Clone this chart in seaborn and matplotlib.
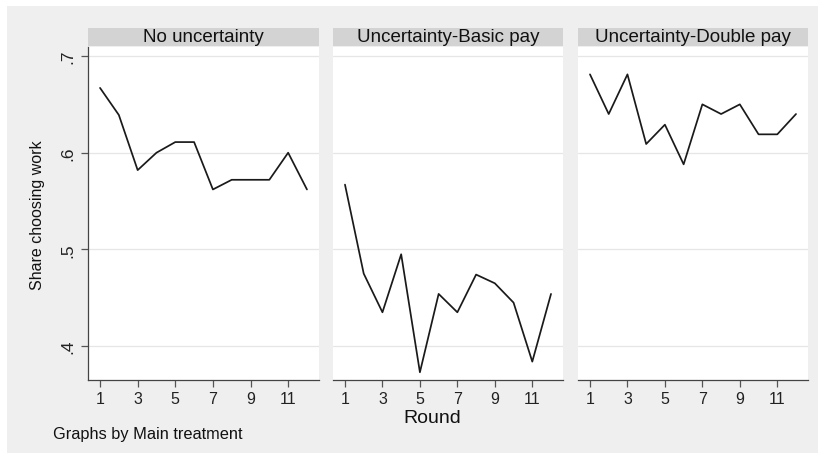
import numpy as np
import pandas as pd
import seaborn as sns
import matplotlib
matplotlib.use("Agg")
import matplotlib.pyplot as plt
from matplotlib.patches import Rectangle

# ---- data ----
rounds = list(range(1, 13))
treatments = ["No uncertainty", "Uncertainty-Basic pay", "Uncertainty-Double pay"]
share_no_uncertainty = [0.667, 0.639, 0.582, 0.600, 0.611, 0.611, 0.562, 0.572, 0.572, 0.572, 0.600, 0.562]
share_basic_pay = [0.567, 0.475, 0.435, 0.495, 0.373, 0.454, 0.435, 0.474, 0.465, 0.445, 0.384, 0.454]
share_double_pay = [0.681, 0.640, 0.681, 0.609, 0.629, 0.588, 0.650, 0.640, 0.650, 0.619, 0.619, 0.640]
x_ticks = [1, 3, 5, 7, 9, 11]
y_ticks = [0.4, 0.5, 0.6, 0.7]
y_tick_labels = [".4", ".5", ".6", ".7"]

df = pd.DataFrame({
    "Round": rounds * 3,
    "Share": share_no_uncertainty + share_basic_pay + share_double_pay,
    "Main treatment": [t for t in treatments for _ in rounds],
})

sns.set_theme(style="white")
plt.rcParams["font.family"] = ["Liberation Sans", "DejaVu Sans"]

W, H = 823, 456
g = sns.FacetGrid(df, col="Main treatment", col_order=treatments, sharey=True, sharex=True,
                  height=4.56, aspect=823 / 456 / 3)
g.map_dataframe(sns.lineplot, x="Round", y="Share", color="#1a1a1a", linewidth=1.25)
fig = g.figure
fig.set_size_inches(W / 100, H / 100)
fig.set_dpi(100)
fig.patch.set_facecolor("white")

# outer grey background
fig.patches.append(Rectangle((7 / W, 1 - 454 / H), 811 / W, 447 / H, transform=fig.transFigure,
                             facecolor="#efefef", edgecolor="none", zorder=-10))

lefts = [88, 333, 578]
widths = [231, 230, 230]
top_px, bot_px = 48, 381
for i, (ax, name) in enumerate(zip(g.axes.flat, treatments)):
    ax.set_position([lefts[i] / W, 1 - bot_px / H, widths[i] / W, (bot_px - top_px) / H])
    ax.set_facecolor("white")
    ax.set_xlim(0.36, 12.64)
    ax.set_ylim(0.365, 0.7093)
    ax.set_title("")
    ax.set_xlabel("")
    ax.set_ylabel("")
    for yv in y_ticks:
        ax.axhline(yv, color="#e6e6e6", linewidth=0.9, zorder=0)
    ax.set_xticks(x_ticks)
    ax.set_xticklabels([str(v) for v in x_ticks], fontsize=11.5, color="#222222")
    ax.tick_params(axis="x", bottom=True, length=5, width=0.9, color="#555555", pad=3)
    for s in ["top", "right"]:
        ax.spines[s].set_visible(False)
    ax.spines["bottom"].set_color("#444444")
    ax.spines["bottom"].set_linewidth(0.9)
    if i == 0:
        ax.spines["left"].set_visible(True)
        ax.spines["left"].set_color("#444444")
        ax.spines["left"].set_linewidth(0.9)
        ax.set_yticks(y_ticks)
        ax.set_yticklabels(y_tick_labels, fontsize=12.5, rotation=90, va="center", color="#222222")
        ax.tick_params(axis="y", left=True, length=5, width=0.9, color="#555555", pad=4)
    else:
        ax.spines["left"].set_visible(False)
        ax.tick_params(axis="y", left=False, labelleft=False)
    # title bar
    ax.add_patch(Rectangle((0, (bot_px - 47) / (bot_px - top_px)), 1, 18 / (bot_px - top_px),
                           transform=ax.transAxes, facecolor="#d3d3d3", edgecolor="none",
                           clip_on=False, zorder=5))
    ax.text(0.5, (bot_px - 38) / (bot_px - top_px), name, transform=ax.transAxes,
            ha="center", va="center", fontsize=13.5, color="#111111", zorder=6)

fig.text(38 / W, 1 - 215 / H, "Share choosing work", rotation=90, ha="center", va="center",
         fontsize=11.5, color="#111111")
fig.text(432 / W, 1 - 419 / H, "Round", ha="center", va="center", fontsize=14, color="#111111")
fig.text(53 / W, 1 - 435 / H, "Graphs by Main treatment", ha="left", va="center",
         fontsize=11.8, color="#111111")

fig.savefig("out.png", dpi=100, facecolor="white")
